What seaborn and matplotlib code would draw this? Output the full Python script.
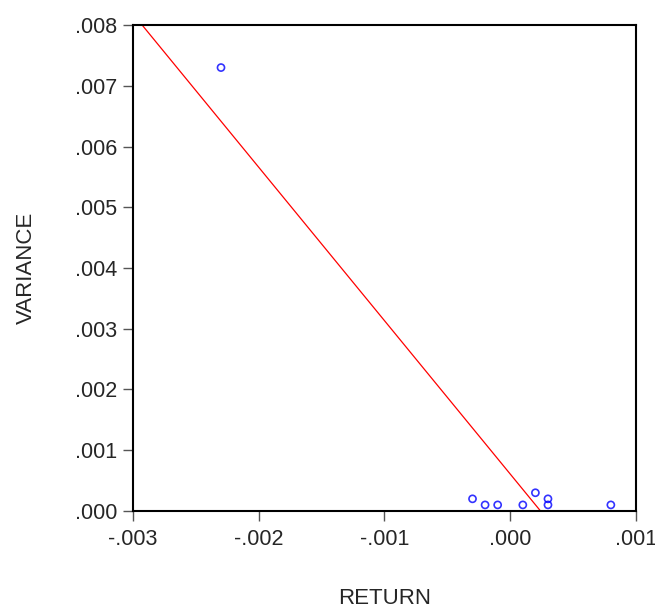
import matplotlib
matplotlib.use("Agg")
import matplotlib.pyplot as plt
import seaborn as sns
import numpy as np
import pandas as pd
from matplotlib.ticker import FuncFormatter, MultipleLocator

returns = [-0.0023, -0.0003, -0.0002, -0.0001, 0.0001, 0.0002, 0.0003, 0.0003, 0.0008]
variances = [0.0073, 0.0002, 0.0001, 0.0001, 0.0001, 0.0003, 0.0002, 0.0001, 0.0001]
df = pd.DataFrame({"RETURN": returns, "VARIANCE": variances})

sns.set_style("white")
plt.rcParams['font.family'] = ['Liberation Sans', 'DejaVu Sans']

fig = plt.figure(figsize=(6.55, 6.11), dpi=100)
ax = fig.add_axes([0.203, 0.1637, 0.768, 0.7953])
ax.set_xlim(-0.003, 0.001)
ax.set_ylim(0.0, 0.008)

sns.regplot(data=df, x="RETURN", y="VARIANCE", ax=ax, ci=None, truncate=False,
            scatter_kws=dict(marker="o", facecolors="none", edgecolors="blue", s=26, linewidths=1.2),
            line_kws=dict(color="red", lw=0.9))
ax.set_xlim(-0.003, 0.001)
ax.set_ylim(0.0, 0.008)

def fmt(v, pos):
    s = f"{v:.3f}"
    if abs(v) < 1e-12:
        return ".000"
    return s.replace("0.", ".", 1)

ax.xaxis.set_major_locator(MultipleLocator(0.001))
ax.yaxis.set_major_locator(MultipleLocator(0.001))
ax.xaxis.set_major_formatter(FuncFormatter(fmt))
ax.yaxis.set_major_formatter(FuncFormatter(fmt))
ax.tick_params(axis="both", direction="out", length=7.5, width=1, color="#555555",
               labelsize=15.5, bottom=True, left=True)
ax.tick_params(axis="x", pad=5.5)
ax.tick_params(axis="y", pad=4)
for sp in ax.spines.values():
    sp.set_color("black")
    sp.set_linewidth(1.5)

ax.set_xlabel("RETURN", fontsize=16, labelpad=27)
ax.set_ylabel("VARIANCE", fontsize=16, labelpad=27)

fig.savefig("out.png", dpi=100)
